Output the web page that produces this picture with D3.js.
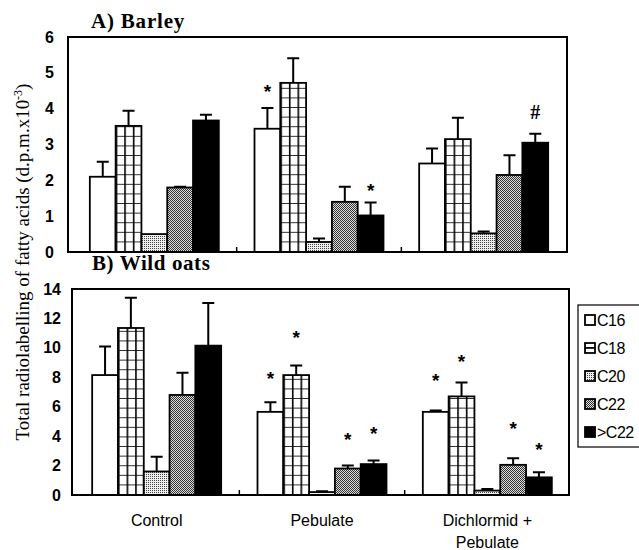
<!DOCTYPE html>
<html>
<head>
<meta charset="utf-8">
<script src="https://cdn.jsdelivr.net/npm/d3@7"></script>
<style>
body { margin: 0; background: white; }
svg { display: block; }
text { fill: black; }
</style>
</head>
<body>
<svg></svg>
<script>
var w = 639;
var h = 550;

// data
var groups = ["Control", "Pebulate", "Dichlormid +|Pebulate"];
var acids = ["C16", "C18", "C20", "C22", ">C22"];

var barleyMean = [
	[2.1, 3.52, 0.5, 1.8, 3.67],
	[3.44, 4.72, 0.28, 1.4, 1.02],
	[2.47, 3.15, 0.52, 2.15, 3.05]
];
var barleyErr = [
	[0.42, 0.42, 0.0, 0.02, 0.16],
	[0.58, 0.69, 0.1, 0.42, 0.36],
	[0.42, 0.6, 0.05, 0.55, 0.25]
];
// [group, acid, symbol, position]
var barleyMarks = [
	[1, 0, "*", 4.6],
	[1, 4, "*", 1.85],
	[2, 4, "#", 3.9]
];

var oatsMean = [
	[8.15, 11.35, 1.6, 6.8, 10.15],
	[5.65, 8.15, 0.2, 1.8, 2.1],
	[5.65, 6.7, 0.3, 2.05, 1.2]
];
var oatsErr = [
	[1.95, 2.05, 1.0, 1.5, 2.9],
	[0.65, 0.65, 0.05, 0.2, 0.25],
	[0.1, 0.95, 0.1, 0.45, 0.35]
];
var oatsMarks = [
	[1, 0, "*", 8.2],
	[1, 1, "*", 11.0],
	[1, 3, "*", 4.1],
	[1, 4, "*", 4.5],
	[2, 0, "*", 8.1],
	[2, 1, "*", 9.4],
	[2, 3, "*", 4.8],
	[2, 4, "*", 3.4]
];

var barleyTicks = [0, 1, 2, 3, 4, 5, 6];
var oatsTicks = [0, 2, 4, 6, 8, 10, 12, 14];

var canvas = d3.select("svg")
	.attr("width", w)
	.attr("height", h)
	.style("background-color", "white");

var defs = canvas.append("defs");

function solidFill(acid) {
	if (acid == "C16") return "white";
	if (acid == ">C22") return "black";
	return null;
}

function stipple(id, dark, light) {
	var p = defs.append("pattern")
		.attr("id", id)
		.attr("patternUnits", "userSpaceOnUse")
		.attr("width", 2)
		.attr("height", 2);
	p.append("rect").attr("width", 2).attr("height", 2).attr("fill", light);
	p.append("rect").attr("width", 1).attr("height", 1).attr("fill", dark);
	return p;
}
stipple("c20", "#444", "#eee");
var p22 = stipple("c22", "#333", "#ddd");
p22.append("rect").attr("x", 1).attr("y", 1).attr("width", 1).attr("height", 1).attr("fill", "#333");

function gridPattern(id, x0, y0, cw, ch) {
	var p = defs.append("pattern")
		.attr("id", id)
		.attr("patternUnits", "userSpaceOnUse")
		.attr("x", x0)
		.attr("y", y0)
		.attr("width", cw)
		.attr("height", ch);
	p.append("rect").attr("width", cw).attr("height", ch).attr("fill", "white");
	p.append("rect").attr("width", 1.6).attr("height", ch).attr("fill", "black");
	p.append("rect").attr("width", cw).attr("height", 1.6).attr("y", ch - 0.8).attr("fill", "black");
}

function panel(name, mean, err, marks, ticks, frame, xr, yr) {
	var g = canvas.append("g");
	var x = d3.scaleBand().domain(groups).range(xr);
	var y = d3.scaleLinear().domain([0, ticks[ticks.length - 1]]).range(yr);
	var groupW = 129;
	var xi = d3.scaleBand().domain(acids)
		.range([(x.bandwidth() - groupW) / 2, (x.bandwidth() + groupW) / 2]);
	var bw = xi.bandwidth();

	var rows = [];
	groups.forEach(function (grp, gi) {
		acids.forEach(function (a, ai) {
			rows.push({ g: grp, gi: gi, a: a, v: mean[gi][ai], e: err[gi][ai] });
		});
	});

	rows.forEach(function (d) {
		if (d.a == "C18") {
			gridPattern("grid-" + name + d.gi, x(d.g) + xi(d.a), y(0), bw / 3, 9.6);
		}
	});

	// error bars (drawn under bars)
	g.selectAll(".err")
		.data(rows.filter(function (d) { return d.e > 0; }))
		.join("path")
		.attr("d", function (d) {
			var cx = x(d.g) + xi(d.a) + bw / 2;
			return "M" + cx + "," + y(d.v) + "V" + y(d.v + d.e) + "M" + (cx - 6) + "," + y(d.v + d.e) + "H" + (cx + 6);
		})
		.attr("stroke", "black")
		.attr("stroke-width", 2)
		.attr("fill", "none");

	g.selectAll(".bar")
		.data(rows)
		.join("rect")
		.attr("x", function (d) { return x(d.g) + xi(d.a); })
		.attr("y", function (d) { return y(d.v); })
		.attr("width", bw)
		.attr("height", function (d) { return y(0) - y(d.v); })
		.attr("fill", function (d) {
			if (d.a == "C18") return "url(#grid-" + name + d.gi + ")";
			if (d.a == "C20") return "url(#c20)";
			if (d.a == "C22") return "url(#c22)";
			return solidFill(d.a);
		})
		.attr("stroke", "black")
		.attr("stroke-width", 1.8);

	g.selectAll(".mark")
		.data(marks)
		.join("text")
		.attr("x", function (d) { return x(groups[d[0]]) + xi(acids[d[1]]) + bw / 2; })
		.attr("y", function (d) { return y(d[3]) + (d[2] == "*" ? 11 : 7); })
		.attr("text-anchor", "middle")
		.style("font-family", function (d) { return d[2] == "*" ? "Liberation Sans, Arial" : "Liberation Serif, Times New Roman"; })
		.style("font-size", function (d) { return d[2] == "*" ? "19px" : "20px"; })
		.style("font-weight", "bold")
		.text(function (d) { return d[2]; });

	// frame
	g.append("rect")
		.attr("x", frame[0])
		.attr("y", frame[1])
		.attr("width", frame[2] - frame[0])
		.attr("height", frame[3] - frame[1])
		.attr("fill", "none")
		.attr("stroke", "black")
		.attr("stroke-width", 2);

	// small ticks between groups
	g.selectAll(".xt")
		.data(groups.slice(1))
		.join("line")
		.attr("x1", function (d) { return x(d); })
		.attr("x2", function (d) { return x(d); })
		.attr("y1", frame[3])
		.attr("y2", frame[3] - 5)
		.attr("stroke", "black")
		.attr("stroke-width", 1.5);

	var ax = g.append("g")
		.attr("transform", "translate(" + frame[0] + ",0)")
		.call(d3.axisLeft(y).tickValues(ticks).tickFormat(d3.format("d")).tickSize(0).tickPadding(frame[4]));
	ax.select(".domain").remove();
	ax.selectAll("text")
		.style("font-family", "Liberation Sans, Arial")
		.style("font-size", "16px")
		.style("font-weight", "bold")
		.attr("fill", "black");
	return x;
}

panel("A", barleyMean, barleyErr, barleyMarks, barleyTicks, [68, 37, 567, 252, 14], [72, 566], [252, 37]);
var xb = panel("B", oatsMean, oatsErr, oatsMarks, oatsTicks, [72, 289, 569, 495, 11], [74, 570], [495, 289]);

// panel titles
canvas.append("text")
	.attr("x", 91).attr("y", 28)
	.style("font-family", "Liberation Serif, Times New Roman")
	.style("font-size", "21px")
	.style("letter-spacing", "0.8px")
	.style("font-weight", "bold")
	.text("A) Barley");
canvas.append("text")
	.attr("x", 92).attr("y", 270)
	.style("font-family", "Liberation Serif, Times New Roman")
	.style("font-size", "21px")
	.style("letter-spacing", "0.6px")
	.style("font-weight", "bold")
	.text("B) Wild oats");

// y title
var yt = canvas.append("text")
	.attr("transform", "translate(29,262) rotate(-90)")
	.attr("text-anchor", "middle")
	.attr("fill", "black")
	.style("font-family", "Liberation Serif, Times New Roman")
	.style("font-size", "19px");
yt.append("tspan").text("Total radiolabelling of fatty acids (d.p.m.x10");
yt.append("tspan").attr("dy", -7).style("font-size", "12px").text("-3");
yt.append("tspan").attr("dy", 7).text(")");

// x labels
groups.forEach(function (grp) {
	var lines = grp.split("|");
	var t = canvas.append("text")
		.attr("text-anchor", "middle")
		.style("font-family", "Liberation Sans, Arial")
		.style("font-size", "16px");
	lines.forEach(function (l, i) {
		t.append("tspan")
			.attr("x", xb(grp) + xb.bandwidth() / 2)
			.attr("y", 526 + i * 22)
			.text(l);
	});
});

// legend
canvas.append("rect")
	.attr("x", 578).attr("y", 305)
	.attr("width", 70).attr("height", 142)
	.attr("fill", "white")
	.attr("stroke", "black")
	.attr("stroke-width", 1.2);
defs.append("pattern")
	.attr("id", "grid-leg")
	.attr("patternUnits", "objectBoundingBox")
	.attr("width", 1).attr("height", 1)
	.append("rect").attr("x", 0).attr("y", 4).attr("width", 10).attr("height", 1.8).attr("fill", "black");
var leg = canvas.selectAll(".leg")
	.data(acids)
	.join("g")
	.attr("transform", function (d, i) { return "translate(585," + (315 + i * 28) + ")"; });
leg.append("rect")
	.attr("width", 10).attr("height", 10)
	.attr("fill", function (d) {
		if (d == "C18") return "url(#grid-leg)";
		if (d == "C20") return "url(#c20)";
		if (d == "C22") return "url(#c22)";
		return solidFill(d);
	})
	.attr("stroke", "black")
	.attr("stroke-width", 1.8);
leg.append("text")
	.attr("x", 12).attr("y", 11)
	.style("font-family", "Liberation Sans, Arial")
	.style("font-size", "16px")
	.style("letter-spacing", "-0.5px")
	.text(function (d) { return d; });
</script>
</body>
</html>
